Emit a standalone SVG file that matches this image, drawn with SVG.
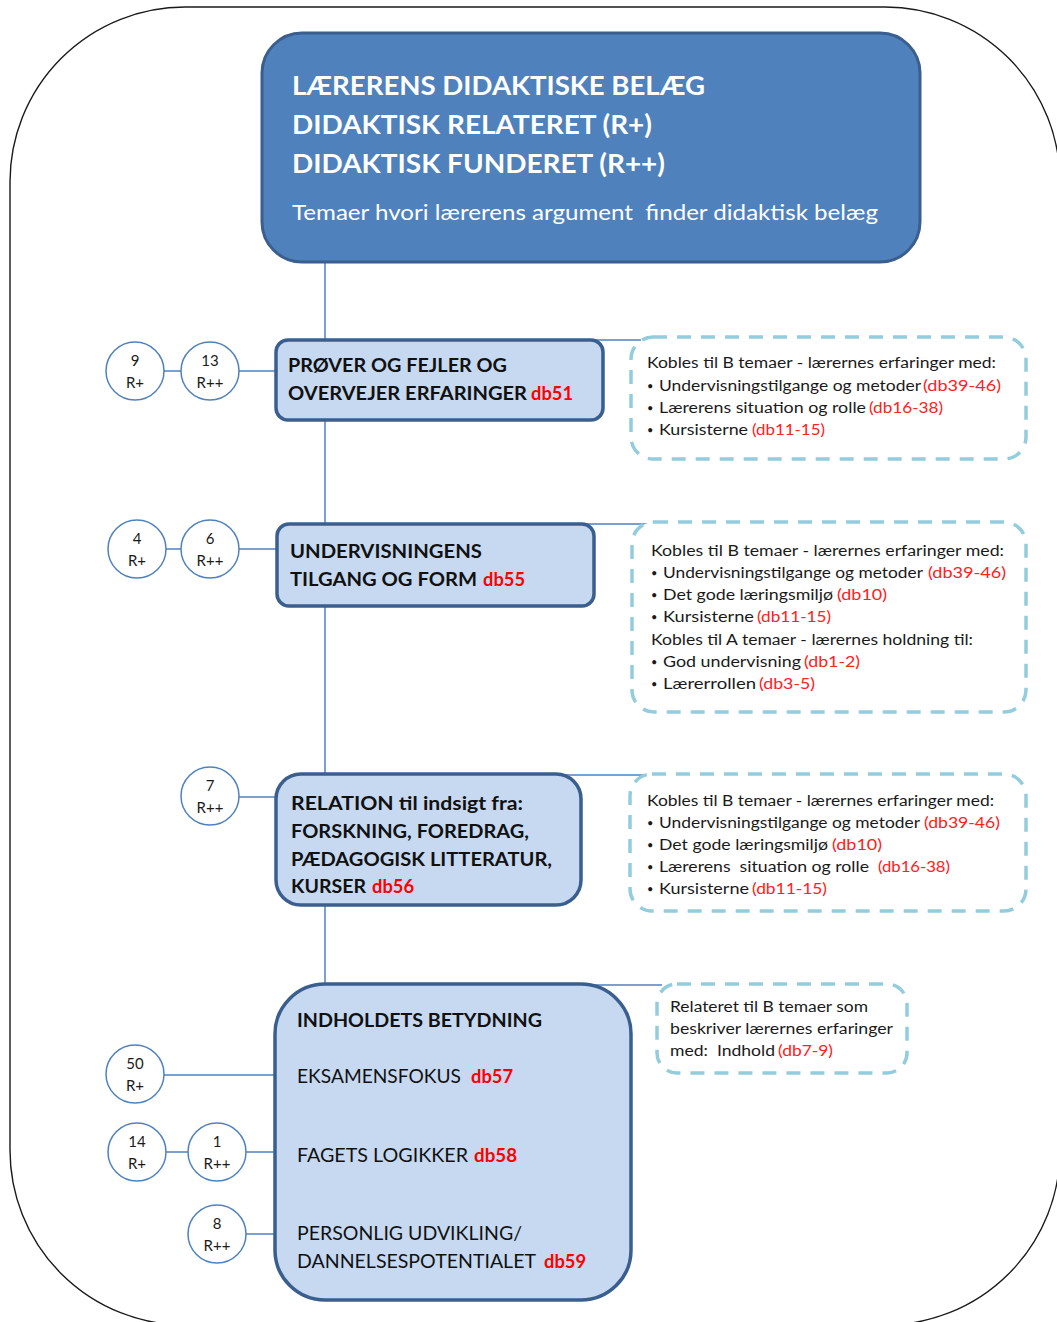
<svg xmlns="http://www.w3.org/2000/svg" width="1057" height="1322" viewBox="0 0 1057 1322">
  <style>
    text { font-family: Lato, "Open Sans", "Liberation Sans", sans-serif; }
    .frame { fill: none; stroke: #1a1a1a; stroke-width: 1.4; }
    .title-box { fill: #4F81BD; stroke: #3A5F8E; stroke-width: 3; }
    .title { fill: #ffffff; font-weight: 700; font-size: 27px; }
    .subtitle { fill: #ffffff; font-size: 22px; }
    .box { fill: #C6D9F1; stroke: #3A5F8E; stroke-width: 3.5; }
    .bt { fill: #111; font-weight: 700; font-size: 19px; }
    .rt { fill: #111; font-size: 19px; }
    .red { fill: #FF0000; }
    .note { fill: #ffffff; stroke: #93CDDD; stroke-width: 3.5; stroke-dasharray: 14 10; }
    .nt { fill: #1a1a1a; font-size: 15.5px; }
    .nb { fill: #1a1a1a; font-size: 11px; }
    .nr { fill: #FF2020; font-size: 15.5px; }
    .ring { fill: #ffffff; stroke: #4F81BD; stroke-width: 1.5; }
    .ct { fill: #1a1a1a; font-size: 15px; text-anchor: middle; }
    .link { fill: none; stroke: #4F81BD; stroke-width: 1.5; }
  </style>

  <!-- outer rounded frame -->
  <rect class="frame" x="10" y="7" width="1050" height="1318" rx="175" ry="175"/>

  <!-- connectors (drawn first so boxes cover their ends) -->
  <g id="connectors">
    <line class="link" x1="325" y1="262" x2="325" y2="985"/>
    <line class="link" x1="325" y1="340" x2="641" y2="340"/>
    <line class="link" x1="325" y1="524" x2="648" y2="524"/>
    <line class="link" x1="325" y1="775" x2="643" y2="775"/>
    <line class="link" x1="325" y1="985" x2="662" y2="985"/>
    <line class="link" x1="135" y1="371" x2="290" y2="371"/>
    <line class="link" x1="137" y1="549" x2="290" y2="549"/>
    <line class="link" x1="210" y1="797" x2="290" y2="797"/>
    <line class="link" x1="135" y1="1075" x2="290" y2="1075"/>
    <line class="link" x1="137" y1="1152" x2="290" y2="1152"/>
    <line class="link" x1="217" y1="1234" x2="290" y2="1234"/>
  </g>

  <!-- heading -->
  <g id="heading">
    <rect class="title-box" x="262" y="33" width="658" height="229" rx="40" ry="40"/>
    <text class="title" x="292" y="95" textLength="413" lengthAdjust="spacingAndGlyphs">LÆRERENS DIDAKTISKE BELÆG</text>
    <text class="title" x="292" y="134" textLength="360" lengthAdjust="spacingAndGlyphs">DIDAKTISK RELATERET (R+)</text>
    <text class="title" x="292" y="173" textLength="373" lengthAdjust="spacingAndGlyphs">DIDAKTISK FUNDERET (R++)</text>
    <text class="subtitle" x="292" y="220" textLength="586" lengthAdjust="spacingAndGlyphs" xml:space="preserve">Temaer hvori lærerens argument  finder didaktisk belæg</text>
  </g>

  <!-- theme db51 -->
  <g id="theme-db51">
    <rect class="box" x="276" y="340" width="327" height="80" rx="12" ry="12"/>
    <text class="bt" x="288" y="372" textLength="219" lengthAdjust="spacingAndGlyphs">PRØVER OG FEJLER OG</text>
    <text class="bt" x="288" y="400" textLength="239" lengthAdjust="spacingAndGlyphs">OVERVEJER ERFARINGER</text>
    <text class="bt red" x="531" y="400" textLength="42" lengthAdjust="spacingAndGlyphs">db51</text>
  </g>
  <g id="count-9">
    <circle class="ring" cx="135" cy="371" r="29"/>
    <text class="ct" x="135" y="365.5">9</text>
    <text class="ct" x="135" y="387.5">R+</text>
  </g>
  <g id="count-13">
    <circle class="ring" cx="210" cy="371" r="29"/>
    <text class="ct" x="210" y="365.5">13</text>
    <text class="ct" x="210" y="387.5">R++</text>
  </g>
  <g id="note-db51">
    <rect class="note" x="631" y="337" width="395" height="122" rx="22" ry="22"/>
    <text class="nt" x="647" y="368" textLength="349" lengthAdjust="spacingAndGlyphs">Kobles til B temaer - lærernes erfaringer med:</text>
    <text class="nb" x="647" y="389.5">•</text>
    <text class="nt" x="659" y="390.5" textLength="262" lengthAdjust="spacingAndGlyphs">Undervisningstilgange og metoder</text>
    <text class="nr" x="923" y="390.5" textLength="78" lengthAdjust="spacingAndGlyphs">(db39-46)</text>
    <text class="nb" x="647" y="411.5">•</text>
    <text class="nt" x="659" y="412.5" textLength="207" lengthAdjust="spacingAndGlyphs">Lærerens situation og rolle</text>
    <text class="nr" x="869" y="412.5" textLength="74" lengthAdjust="spacingAndGlyphs">(db16-38)</text>
    <text class="nb" x="647" y="434">•</text>
    <text class="nt" x="659" y="435" textLength="89" lengthAdjust="spacingAndGlyphs">Kursisterne</text>
    <text class="nr" x="752" y="435" textLength="73" lengthAdjust="spacingAndGlyphs">(db11-15)</text>
  </g>

  <!-- theme db55 -->
  <g id="theme-db55">
    <rect class="box" x="277" y="524" width="317" height="82" rx="12" ry="12"/>
    <text class="bt" x="290" y="558" textLength="192" lengthAdjust="spacingAndGlyphs">UNDERVISNINGENS</text>
    <text class="bt" x="290" y="586" textLength="187" lengthAdjust="spacingAndGlyphs">TILGANG OG FORM</text>
    <text class="bt red" x="483" y="586" textLength="42" lengthAdjust="spacingAndGlyphs">db55</text>
  </g>
  <g id="count-4">
    <circle class="ring" cx="137" cy="549" r="29"/>
    <text class="ct" x="137" y="543.5">4</text>
    <text class="ct" x="137" y="565.5">R+</text>
  </g>
  <g id="count-6">
    <circle class="ring" cx="210" cy="549" r="29"/>
    <text class="ct" x="210" y="543.5">6</text>
    <text class="ct" x="210" y="565.5">R++</text>
  </g>
  <g id="note-db55">
    <rect class="note" x="632" y="522" width="394" height="190" rx="22" ry="22"/>
    <text class="nt" x="651" y="556" textLength="353" lengthAdjust="spacingAndGlyphs">Kobles til B temaer - lærernes erfaringer med:</text>
    <text class="nb" x="651" y="577">•</text>
    <text class="nt" x="663" y="578" textLength="260" lengthAdjust="spacingAndGlyphs">Undervisningstilgange og metoder</text>
    <text class="nr" x="928" y="578" textLength="78" lengthAdjust="spacingAndGlyphs">(db39-46)</text>
    <text class="nb" x="651" y="599">•</text>
    <text class="nt" x="663" y="600" textLength="170" lengthAdjust="spacingAndGlyphs">Det gode læringsmiljø</text>
    <text class="nr" x="837" y="600" textLength="50" lengthAdjust="spacingAndGlyphs">(db10)</text>
    <text class="nb" x="651" y="621">•</text>
    <text class="nt" x="663" y="622" textLength="91" lengthAdjust="spacingAndGlyphs">Kursisterne</text>
    <text class="nr" x="757" y="622" textLength="74" lengthAdjust="spacingAndGlyphs">(db11-15)</text>
    <text class="nt" x="651" y="644.5" textLength="322" lengthAdjust="spacingAndGlyphs">Kobles til A temaer - lærernes holdning til:</text>
    <text class="nb" x="651" y="666">•</text>
    <text class="nt" x="663" y="667" textLength="138" lengthAdjust="spacingAndGlyphs">God undervisning</text>
    <text class="nr" x="804" y="667" textLength="56" lengthAdjust="spacingAndGlyphs">(db1-2)</text>
    <text class="nb" x="651" y="688">•</text>
    <text class="nt" x="663" y="689" textLength="93" lengthAdjust="spacingAndGlyphs">Lærerrollen</text>
    <text class="nr" x="759" y="689" textLength="56" lengthAdjust="spacingAndGlyphs">(db3-5)</text>
  </g>

  <!-- theme db56 -->
  <g id="theme-db56">
    <rect class="box" x="276" y="774" width="305" height="131" rx="25" ry="25"/>
    <text class="bt" x="291" y="810" textLength="232" lengthAdjust="spacingAndGlyphs">RELATION til indsigt fra:</text>
    <text class="bt" x="291" y="838" textLength="238" lengthAdjust="spacingAndGlyphs">FORSKNING, FOREDRAG,</text>
    <text class="bt" x="291" y="866" textLength="261" lengthAdjust="spacingAndGlyphs">PÆDAGOGISK LITTERATUR,</text>
    <text class="bt" x="291" y="893" textLength="75" lengthAdjust="spacingAndGlyphs">KURSER</text>
    <text class="bt red" x="372" y="893" textLength="42" lengthAdjust="spacingAndGlyphs">db56</text>
  </g>
  <g id="count-7">
    <circle class="ring" cx="210" cy="796" r="29"/>
    <text class="ct" x="210" y="790.5">7</text>
    <text class="ct" x="210" y="812.5">R++</text>
  </g>
  <g id="note-db56">
    <rect class="note" x="630" y="774" width="396" height="137" rx="22" ry="22"/>
    <text class="nt" x="647" y="805.5" textLength="347" lengthAdjust="spacingAndGlyphs">Kobles til B temaer - lærernes erfaringer med:</text>
    <text class="nb" x="647" y="826.5">•</text>
    <text class="nt" x="659" y="827.5" textLength="261" lengthAdjust="spacingAndGlyphs">Undervisningstilgange og metoder</text>
    <text class="nr" x="924" y="827.5" textLength="76" lengthAdjust="spacingAndGlyphs">(db39-46)</text>
    <text class="nb" x="647" y="848.5">•</text>
    <text class="nt" x="659" y="849.5" textLength="169" lengthAdjust="spacingAndGlyphs">Det gode læringsmiljø</text>
    <text class="nr" x="832" y="849.5" textLength="50" lengthAdjust="spacingAndGlyphs">(db10)</text>
    <text class="nb" x="647" y="871">•</text>
    <text class="nt" x="659" y="872" textLength="210" lengthAdjust="spacingAndGlyphs" xml:space="preserve">Lærerens  situation og rolle</text>
    <text class="nr" x="878" y="872" textLength="72" lengthAdjust="spacingAndGlyphs">(db16-38)</text>
    <text class="nb" x="647" y="893">•</text>
    <text class="nt" x="659" y="894" textLength="90" lengthAdjust="spacingAndGlyphs">Kursisterne</text>
    <text class="nr" x="752" y="894" textLength="75" lengthAdjust="spacingAndGlyphs">(db11-15)</text>
  </g>

  <!-- theme db57-59 -->
  <g id="theme-content">
    <rect class="box" x="275" y="984" width="356" height="316" rx="50" ry="50"/>
    <text class="bt" x="297" y="1027" textLength="245" lengthAdjust="spacingAndGlyphs">INDHOLDETS BETYDNING</text>
    <text class="rt" x="297" y="1083" textLength="164" lengthAdjust="spacingAndGlyphs">EKSAMENSFOKUS</text>
    <text class="bt red" x="471" y="1083" textLength="42" lengthAdjust="spacingAndGlyphs">db57</text>
    <text class="rt" x="297" y="1162" textLength="171" lengthAdjust="spacingAndGlyphs">FAGETS LOGIKKER</text>
    <text class="bt red" x="474" y="1162" textLength="43" lengthAdjust="spacingAndGlyphs">db58</text>
    <text class="rt" x="297" y="1240" textLength="225" lengthAdjust="spacingAndGlyphs">PERSONLIG UDVIKLING/</text>
    <text class="rt" x="297" y="1268" textLength="239" lengthAdjust="spacingAndGlyphs">DANNELSESPOTENTIALET</text>
    <text class="bt red" x="544" y="1268" textLength="42" lengthAdjust="spacingAndGlyphs">db59</text>
  </g>
  <g id="count-50">
    <circle class="ring" cx="135" cy="1074" r="29"/>
    <text class="ct" x="135" y="1068.5">50</text>
    <text class="ct" x="135" y="1090.5">R+</text>
  </g>
  <g id="count-14">
    <circle class="ring" cx="137" cy="1152" r="29"/>
    <text class="ct" x="137" y="1146.5">14</text>
    <text class="ct" x="137" y="1168.5">R+</text>
  </g>
  <g id="count-1">
    <circle class="ring" cx="217" cy="1152" r="29"/>
    <text class="ct" x="217" y="1146.5">1</text>
    <text class="ct" x="217" y="1168.5">R++</text>
  </g>
  <g id="count-8">
    <circle class="ring" cx="217" cy="1234" r="29"/>
    <text class="ct" x="217" y="1228.5">8</text>
    <text class="ct" x="217" y="1250.5">R++</text>
  </g>
  <g id="note-content">
    <rect class="note" x="657" y="984" width="250" height="89" rx="20" ry="20"/>
    <text class="nt" x="670" y="1012" textLength="198" lengthAdjust="spacingAndGlyphs">Relateret til B temaer som</text>
    <text class="nt" x="670" y="1034" textLength="223" lengthAdjust="spacingAndGlyphs">beskriver lærernes erfaringer</text>
    <text class="nt" x="670" y="1056" textLength="105" lengthAdjust="spacingAndGlyphs" xml:space="preserve">med:  Indhold</text>
    <text class="nr" x="778" y="1056" textLength="55" lengthAdjust="spacingAndGlyphs">(db7-9)</text>
  </g>
</svg>
